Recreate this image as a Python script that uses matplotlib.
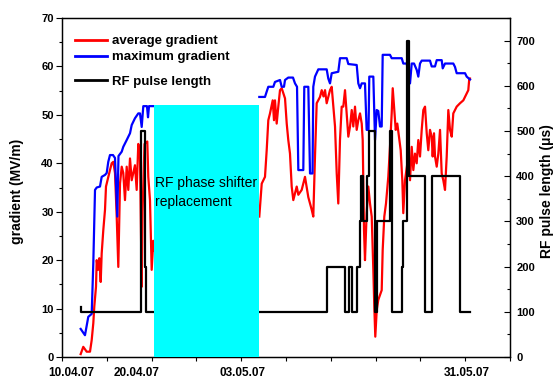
import numpy as np
import matplotlib
matplotlib.use("Agg")
import matplotlib.pyplot as plt
from matplotlib.patches import Rectangle
from matplotlib.ticker import MultipleLocator
from matplotlib.lines import Line2D

plt.rcParams['font.family'] = ['Liberation Sans', 'DejaVu Sans']

# ---- data (x in run-index units 0..100, gap = phase shifter replacement) ----
avg_x = [4.17, 4.75, 5.51, 6.25, 6.63, 6.99, 7.21, 7.59, 7.75, 8.04, 8.33, 8.64, 8.86,
         9.22, 9.6, 9.82, 10.33, 10.71, 11.09, 11.45, 11.83, 12.21, 12.57, 12.95, 13.33,
         13.68, 14.06, 14.44, 14.8, 15.18, 15.56, 15.92, 16.29, 16.67, 17.03, 17.41,
         17.79, 17.98, 18.42, 19.04, 19.26, 19.64, 20.02, 20.38, 20.54,
         np.nan,
         44.04, 44.58, 45.31, 45.69, 46.05, 46.43, 47.03, 47.32, 47.54, 47.92, 48.28,
         48.66, 49.04, 49.78, 50.16, 50.51, 50.89, 51.27, 51.63, 52.39, 52.75, 53.5,
         54.24, 54.98, 55.36, 55.74, 56.09, 56.47, 56.85, 57.59, 57.97, 58.37, 58.71,
         59.08, 59.82, 60.2, 60.94, 61.32, 61.67, 62.05, 62.43, 62.79, 63.17, 63.55,
         63.91, 64.29, 64.67, 65.02, 65.4, 65.78, 66.14, 66.52, 66.9, 67.12, 67.25,
         67.41, 67.63, 68.0, 68.37, 68.75, 69.13, 69.49, 69.71, 69.93, 70.25, 70.6,
         71.36, 71.58, 71.94, 72.32, 72.83, 73.21, 73.59, 73.82, 74.11, 74.49, 74.84,
         75.22, 75.6, 75.96, 76.18, 76.56, 77.3, 77.68, 78.06, 78.42, 78.79, 79.17,
         79.53, 79.91, 80.29, 80.65, 81.03, 81.41, 81.76, 82.14, 82.52, 82.74, 83.04,
         83.26, 83.64, 84.0, 84.38, 84.75, 85.11, 85.49, 85.87, 86.23, 86.61, 86.99,
         87.34, 87.72, 88.1, 88.84, 89.58, 90.33, 90.69, 90.91, 91.07]
avg_grad = [0.6, 2.1, 1.1, 1.1, 3.5, 7.0, 10.4, 14.5, 20.0, 18.0, 20.4, 15.5, 21.4,
            26.2, 30.4, 35.2, 37.2, 38.6, 40.0, 40.3, 38.0, 29.0, 18.6, 35.8, 39.3,
            38.0, 32.4, 39.3, 34.5, 41.0, 36.5, 38.0, 39.6, 34.5, 44.0, 41.4,
            14.5, 30.0, 44.0, 44.5, 37.2, 32.4, 18.0, 24.0, 22.0,
            np.nan,
            29.0, 35.8, 37.2, 42.7, 48.9, 50.3, 53.0, 48.9, 53.0, 48.2, 51.7,
            55.1, 55.5, 53.4, 48.2, 44.8, 42.0, 35.2, 32.4, 35.2, 33.5, 34.5,
            37.2, 33.0, 31.7, 30.4, 29.0, 41.4, 52.4, 53.7, 55.1, 53.8, 55.1,
            52.4, 55.1, 55.8, 47.6, 37.9, 31.7, 44.8, 51.7, 51.7, 55.1, 50.3,
            45.5, 47.6, 51.0, 47.6, 51.7, 46.9, 48.9, 50.3, 48.2, 44.8, 36.5,
            26.2, 20.0, 29.7, 35.2, 31.7, 29.0, 18.0, 10.4, 4.2, 9.7, 11.8,
            13.8, 22.1, 29.0, 31.7, 37.2, 43.4, 50.3, 55.5, 51.7, 46.9, 48.2,
            45.5, 42.7, 36.5, 29.7, 36.5, 41.4, 36.5, 43.4, 38.6, 42.0, 40.0,
            44.8, 41.4, 46.9, 51.0, 51.7, 46.2, 42.7, 46.9, 45.5, 41.4, 46.2,
            41.4, 39.3, 42.0, 46.9, 37.9, 36.5, 34.5, 41.4, 51.0, 46.9, 45.5,
            50.3, 51.0, 51.7, 52.4, 53.0, 54.4, 55.1, 57.5, 57.5]

max_x = [4.17, 5.13, 5.87, 6.63, 6.99, 7.37, 7.75, 8.48, 8.86, 9.6, 9.98, 10.33, 10.71,
         11.38, 11.83, 12.34, 12.61, 13.33, 13.68, 14.44, 15.18, 15.56, 16.29, 17.03,
         17.41, 17.79, 18.15, 18.97, 19.2, 19.42, 20.3,
         np.nan,
         44.04, 45.31, 45.69, 46.05, 47.17, 47.54, 48.66, 49.04, 49.55, 49.78, 50.51,
         51.56, 52.01, 52.46, 52.75, 53.86, 54.08, 54.98, 55.36, 55.92, 56.09, 56.47,
         57.21, 59.08, 59.44, 59.82, 60.2, 61.67, 62.05, 63.55, 63.91, 65.78, 66.14,
         66.52, 66.9, 67.63, 68.0, 68.42, 68.59, 69.49, 69.87, 70.25, 70.6, 70.98,
         71.36, 71.58, 73.21, 73.59, 75.83, 76.18, 76.94, 77.3, 77.68, 78.06, 78.57,
         79.17, 79.53, 79.91, 80.29, 82.14, 82.52, 83.26, 83.64, 84.75, 84.98, 85.49,
         87.34, 87.72, 88.1, 89.96, 90.33, 91.07]
max_grad = [5.8, 4.5, 8.3, 8.9, 19.4, 34.5, 35.0, 35.2, 37.2, 37.6, 38.0, 40.3, 41.7,
            41.7, 41.1, 29.0, 41.5, 42.4, 43.4, 44.8, 46.2, 47.9, 49.3, 50.3,
            50.3, 47.5, 51.8, 51.8, 49.5, 51.8, 51.8,
            np.nan,
            53.7, 53.7, 54.8, 55.8, 55.8, 56.8, 57.2, 55.8, 55.8, 57.2, 57.7,
            57.7, 56.5, 55.8, 38.6, 38.6, 55.8, 55.8, 37.9, 37.9, 55.8, 57.9,
            59.4, 59.4, 57.5, 56.5, 58.6, 58.9, 61.7, 61.7, 60.5, 60.3, 56.5,
            55.5, 56.5, 56.5, 46.9, 46.9, 57.9, 57.9, 44.8, 51.0, 50.8, 47.6,
            47.6, 62.4, 62.4, 61.7, 61.7, 60.6, 60.6, 58.6, 56.5, 60.6, 60.6,
            59.3, 57.9, 60.6, 61.2, 61.2, 60.0, 60.0, 61.3, 61.3, 59.6, 60.6,
            60.6, 59.9, 58.6, 58.6, 57.9, 57.3]

rf_x = [4.17, 4.35, 17.7, 18.59, 18.82, 59.22, 63.17, 64.06, 64.62, 65.74, 66.52,
        66.85, 67.19, 68.04, 68.42, 69.87, 70.2, 73.21, 73.77, 75.83, 76.18, 76.94,
        77.41, 81.03, 82.52, 88.91, 91.07]
rf_len = [110, 100, 500, 200, 100, 200, 100, 200, 100, 200, 300,
          400, 300, 400, 500, 100, 300, 500, 100, 200, 300, 700,
          400, 100, 400, 100, 100]

date_pos = [2.0, 16.7, 40.2, 90.4]
date_labels = ['10.04.07', '20.04.07', '03.05.07', '31.05.07']
repl_start, repl_end, repl_top = 20.5, 44.0, 52.0

# ---- figure ----
fig = plt.figure(figsize=(5.54, 3.84), dpi=100)
ax = fig.add_axes([0.1119, 0.0703, 0.8087, 0.8828])
ax2 = ax.twinx()

l_avg, = ax.plot(avg_x, avg_grad, color='#ff0000', lw=1.6, label='average gradient')
l_max, = ax.plot(max_x, max_grad, color='#0000ff', lw=1.6, label='maximum gradient')
l_rf, = ax2.plot(rf_x, rf_len, color='black', lw=1.6, drawstyle='steps-post',
                 label='RF pulse length')

# replacement period box, drawn on top of all curves
ax2.add_patch(Rectangle((repl_start, 0), repl_end - repl_start, repl_top,
                        transform=ax.transData, facecolor='#00ffff',
                        edgecolor='none', zorder=5))
ax2.text(repl_start + 0.3, 33.9, 'RF phase shifter\nreplacement',
         transform=ax.transData, fontsize=10, ha='left', va='center',
         linespacing=1.45, zorder=6)

ax.set_xlim(0, 100)
ax.set_ylim(0, 70)
ax2.set_ylim(0, 750)

ax.set_xticks(date_pos)
ax.set_xticklabels(date_labels, fontsize=8.5, fontweight='bold')
ax.xaxis.set_minor_locator(MultipleLocator(10))
ax.tick_params(axis='x', which='major', length=0, pad=7)
ax.tick_params(axis='x', which='minor', length=3, direction='out', width=0.8)
ax2.tick_params(axis='x', which='major', length=0, top=True, bottom=False,
                labelbottom=False, labeltop=False)
ax2.tick_params(axis='x', which='minor', length=3, direction='in', top=True,
                bottom=False, width=0.8)

ax.yaxis.set_major_locator(MultipleLocator(10))
ax.yaxis.set_minor_locator(MultipleLocator(5))
ax.tick_params(axis='y', which='major', length=4, width=0.8, direction='out', pad=2,
               labelsize=8)
ax.tick_params(axis='y', which='minor', length=2.5, width=0.8, direction='out')
for t in ax.get_yticklabels():
    t.set_fontweight('bold')

ax2.yaxis.set_major_locator(MultipleLocator(100))
ax2.yaxis.set_minor_locator(MultipleLocator(50))
ax2.tick_params(axis='y', which='major', length=4, width=0.8, direction='in', pad=4.5,
                labelsize=8)
ax2.tick_params(axis='y', which='minor', length=2.5, width=0.8, direction='in')
for t in ax2.get_yticklabels():
    t.set_fontweight('bold')

ax.set_ylabel('gradient (MV/m)', fontsize=10, fontweight='bold')
ax.yaxis.set_label_coords(-0.085, 0.49)
ax2.set_ylabel('RF pulse length (\u03bcs)', fontsize=10, fontweight='bold')
ax2.yaxis.set_label_coords(1.068, 0.49)

for a in (ax, ax2):
    for s in a.spines.values():
        s.set_linewidth(0.9)

leg1 = ax2.legend(handles=[l_avg, l_max], loc='upper left',
                  bbox_to_anchor=(0.03, 0.95), frameon=False, borderpad=0,
                  borderaxespad=0, handlelength=2.4, handletextpad=0.35,
                  labelspacing=0.3, prop={'weight': 'bold', 'size': 9.5})
for h in leg1.legend_handles:
    h.set_linewidth(2)
ax2.add_artist(leg1)
leg2 = ax2.legend(handles=[Line2D([], [], color='black', lw=2)],
                  labels=['RF pulse length'], loc='upper left',
                  bbox_to_anchor=(0.03, 0.83), frameon=False, borderpad=0,
                  borderaxespad=0, handlelength=2.4, handletextpad=0.35,
                  prop={'weight': 'bold', 'size': 9.5})

fig.savefig('out.png', dpi=100)
